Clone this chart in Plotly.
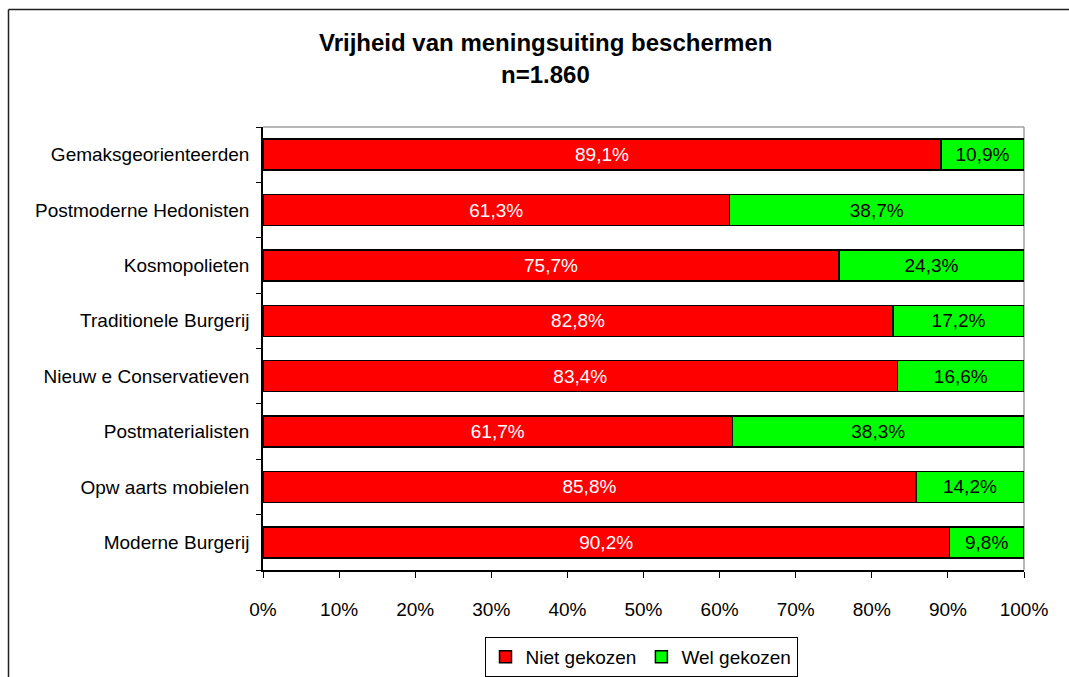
import plotly.graph_objects as go

# Segment categories, listed top to bottom
categories = [
    "Gemaksgeorienteerden",
    "Postmoderne Hedonisten",
    "Kosmopolieten",
    "Traditionele Burgerij",
    "Nieuw e Conservatieven",
    "Postmaterialisten",
    "Opw aarts mobielen",
    "Moderne Burgerij",
]
niet_gekozen = [89.1, 61.3, 75.7, 82.8, 83.4, 61.7, 85.8, 90.2]
wel_gekozen = [10.9, 38.7, 24.3, 17.2, 16.6, 38.3, 14.2, 9.8]
x_ticks = [0, 10, 20, 30, 40, 50, 60, 70, 80, 90, 100]
x_tick_labels = [f"{v}%" for v in x_ticks]

title_line1 = "Vrijheid van meningsuiting beschermen"
title_line2 = "n=1.860"

FONT = "Liberation Sans, Arial, sans-serif"
W, H = 1069, 677
# plot area in pixels
PL, PR, PT, PB = 263, 1024, 127, 570


def pct(v):
    return f"{v:.1f}".replace(".", ",") + "%"


def px_x(p):
    return (p - PL) / (PR - PL)


def px_y(p):
    return (PB - p) / (PB - PT)


fig = go.Figure()
fig.add_trace(go.Bar(
    name="Niet gekozen", y=categories, x=niet_gekozen, orientation="h",
    marker=dict(color="#FF0000", line=dict(color="black", width=1.5)),
    text=[pct(v) for v in niet_gekozen], textposition="inside",
    insidetextanchor="middle", textangle=0, constraintext="none",
    textfont=dict(color="white", size=19, family=FONT),
    hoverinfo="skip",
))
fig.add_trace(go.Bar(
    name="Wel gekozen", y=categories, x=wel_gekozen, orientation="h",
    marker=dict(color="#00FF00", line=dict(color="black", width=1.5)),
    text=[pct(v) for v in wel_gekozen], textposition="inside",
    insidetextanchor="middle", textangle=0, constraintext="none",
    textfont=dict(color="black", size=19, family=FONT),
    hoverinfo="skip",
))

fig.update_layout(
    width=W, height=H,
    margin=dict(l=PL, r=W - PR, t=PT, b=H - PB, pad=0),
    barmode="stack", bargap=0.44,
    paper_bgcolor="white", plot_bgcolor="white",
    font=dict(family=FONT, size=19, color="black"),
    showlegend=True,
    legend=dict(
        orientation="h", xref="paper", x=px_x(641), xanchor="center",
        yref="container", y=1 - 637 / H, yanchor="top",
        bordercolor="black", borderwidth=1,
        font=dict(size=19, family=FONT, color="black"),
        traceorder="normal", itemclick=False, itemwidth=30,
    ),
    xaxis=dict(
        range=[0, 100], tickvals=x_ticks, ticktext=x_tick_labels,
        showgrid=False, zeroline=False,
        showline=True, linecolor="black", linewidth=1.5,
        ticks="outside", ticklen=6, tickcolor="black", tickwidth=1,
        ticklabelstandoff=15,
        tickfont=dict(size=19, family=FONT, color="black"),
        fixedrange=True,
    ),
    yaxis=dict(
        categoryorder="array", categoryarray=categories[::-1],
        showgrid=False, zeroline=False,
        showline=True, linecolor="black", linewidth=1.5,
        ticks="outside", ticklen=5, tickcolor="black", tickwidth=1,
        tickson="boundaries", ticklabelstandoff=8,
        tickfont=dict(size=19, family=FONT, color="black"),
        fixedrange=True,
    ),
    shapes=[
        # plot area top and right edges
        dict(type="line", xref="paper", yref="paper", x0=0, x1=1, y0=1, y1=1,
             line=dict(color="#a0a0a0", width=1.5), layer="below"),
        dict(type="line", xref="paper", yref="paper", x0=1, x1=1, y0=0, y1=1,
             line=dict(color="#a0a0a0", width=1.5), layer="below"),
        # chart frame (left and top edges fall inside the page)
        dict(type="line", xref="paper", yref="paper",
             x0=px_x(8.5), x1=px_x(8.5), y0=px_y(700), y1=px_y(9.5),
             line=dict(color="#202020", width=1.5)),
        dict(type="line", xref="paper", yref="paper",
             x0=px_x(8.5), x1=px_x(1100), y0=px_y(9.5), y1=px_y(9.5),
             line=dict(color="#202020", width=1.5)),
    ],
    annotations=[
        dict(text=f"<b>{title_line1}</b>", xref="paper", yref="paper",
             x=px_x(545), y=px_y(43), xanchor="center", yanchor="middle",
             showarrow=False, font=dict(size=24, family=FONT, color="black")),
        dict(text=f"<b>{title_line2}</b>", xref="paper", yref="paper",
             x=px_x(545), y=px_y(74), xanchor="center", yanchor="middle",
             showarrow=False, font=dict(size=24, family=FONT, color="black")),
    ],
)

fig.write_html("out.html", config={"displayModeBar": False})
